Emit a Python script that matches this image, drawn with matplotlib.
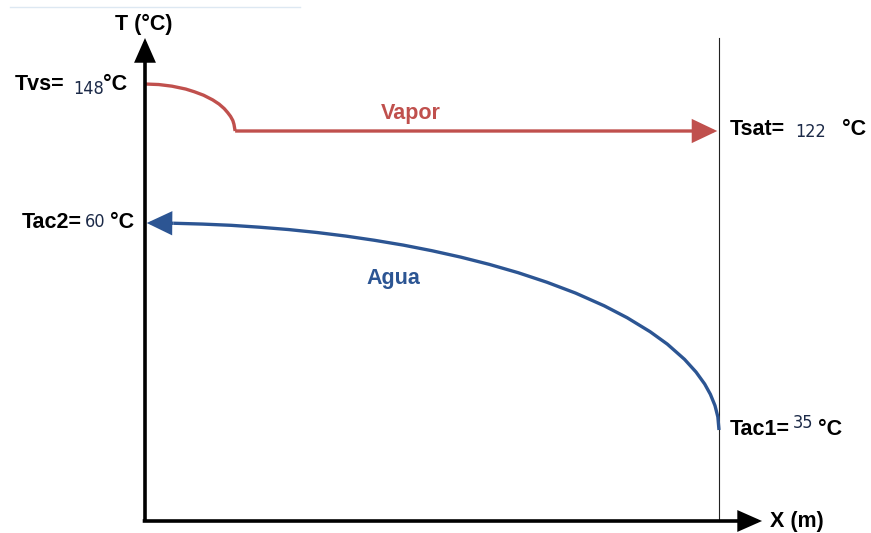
import numpy as np
import matplotlib
matplotlib.use("Agg")
import matplotlib.pyplot as plt
from matplotlib.lines import Line2D

# ---- data -------------------------------------------------------------
# Temperatures of the streams (°C)
T_vapor_in = 148      # Tvs, superheated steam inlet
T_sat = 122           # Tsat, condensing temperature
T_water_out = 60      # Tac2, cooling water outlet
T_water_in = 35       # Tac1, cooling water inlet

# Steam profile along the exchanger (x in units of exchanger length)
vapor_x = [0.0, 0.024, 0.047, 0.071, 0.086, 0.102, 0.118, 0.129, 0.138,
           0.144, 0.149, 0.153, 0.155, 0.157, 1.0]
vapor_T = [148.0, 147.7, 146.8, 145.2, 143.7, 141.8, 139.2, 136.9, 134.4,
           132.2, 130.1, 127.8, 125.7, 122.0, 122.0]

# Cooling water profile (counter-flow, enters at x=1, leaves at x=0)
water_x = [0.0, 0.05, 0.1, 0.15, 0.2, 0.25, 0.3, 0.35, 0.4, 0.45, 0.5,
           0.55, 0.6, 0.65, 0.7, 0.75, 0.8, 0.84, 0.88, 0.91, 0.94, 0.96,
           0.975, 0.985, 0.993, 0.998, 1.0]
water_T = [60.0, 59.97, 59.87, 59.72, 59.49, 59.21, 58.85, 58.42, 57.91,
           57.33, 56.65, 55.88, 55.0, 54.0, 52.85, 51.54, 50.0, 48.56,
           46.87, 45.37, 43.53, 42.0, 40.56, 39.31, 37.95, 36.58, 35.0]

x_end = 1.0           # exchanger outlet (vertical reference line)
x_axis_tip = 1.075
T_axis_tip = 175

# Schematic (broken) temperature scale: knots of temperature vs. drawn height
scale_T = [-10, 0, 35, 60, 122, 148, 175, 215]
scale_h = [0, 12, 103, 310, 402, 449, 495, 533]

RED = "#c0504d"
BLUE = "#2c5593"
NUM = "#1c2a48"

plt.rcParams["font.family"] = ["Liberation Sans", "DejaVu Sans"]

fig = plt.figure(figsize=(8.71, 5.33), dpi=100)
ax = fig.add_axes([0, 0, 1, 1])
ax.set_yscale("function",
              functions=(lambda t: np.interp(t, scale_T, scale_h),
                         lambda h: np.interp(h, scale_h, scale_T)))
ax.set_xlim(-145 / 574, (871 - 145) / 574)
ax.set_ylim(scale_T[0], scale_T[-1])
ax.axis("off")

# faint rule at the very top
fig.add_artist(Line2D([10 / 871, 300 / 871], [1 - 7 / 533, 1 - 7 / 533],
                      color="#dde8f2", lw=1.0))

# exchanger outlet reference line
ax.plot([x_end, x_end], [0, T_axis_tip], color="#222222", lw=0.8)

# axes with arrows
axis_arrow = dict(arrowstyle="-|>,head_length=0.95,head_width=0.42",
                  color="black", lw=2.6, mutation_scale=14,
                  shrinkA=0, shrinkB=0, joinstyle="miter", capstyle="butt")
ax.annotate("", xy=(0, T_axis_tip), xytext=(0, 0), arrowprops=axis_arrow)
ax.annotate("", xy=(x_axis_tip, 0), xytext=(-0.004, 0), arrowprops=axis_arrow)

ax.annotate("T (°C)", xy=(0, T_axis_tip), xytext=(-1, 8),
            textcoords="offset pixels", ha="center", va="baseline",
            fontsize=15.5, fontweight="bold")
ax.annotate("X (m)", xy=(x_axis_tip, 0), xytext=(8, -6),
            textcoords="offset pixels", ha="left", va="baseline",
            fontsize=15.5, fontweight="bold")

# stream profiles
line_arrow = dict(arrowstyle="-|>,head_length=0.8,head_width=0.38",
                  lw=2.4, mutation_scale=18, shrinkA=0, shrinkB=0,
                  joinstyle="miter", capstyle="butt")

ax.plot(vapor_x[:-1], vapor_T[:-1], color=RED, lw=2.4,
        solid_capstyle="butt", solid_joinstyle="round")
ax.annotate("", xy=(vapor_x[-1] - 0.003, vapor_T[-1]),
            xytext=(vapor_x[-2], vapor_T[-2]),
            arrowprops=dict(line_arrow, color=RED))

ax.plot(water_x[1:], water_T[1:], color=BLUE, lw=2.4,
        solid_capstyle="butt", solid_joinstyle="round")
ax.annotate("", xy=(water_x[0] + 0.003, water_T[0]),
            xytext=(water_x[1], water_T[1]),
            arrowprops=dict(line_arrow, color=BLUE))

ax.annotate("Vapor", xy=(0.463, T_sat), xytext=(0, 12),
            textcoords="offset pixels", ha="center", va="baseline",
            fontsize=15.5, fontweight="bold", color=RED)
ax.annotate("Agua", xy=(0.432, 57.5), xytext=(0, -40),
            textcoords="offset pixels", ha="center", va="baseline",
            fontsize=15.5, fontweight="bold", color=BLUE)


def temp_label(x, T, name, name_dx, num_dx, num_dy, unit_dx, dy=-5):
    """Label like 'Tvs= 148 °C' anchored at a point of the diagram."""
    ax.annotate(name, xy=(x, T), xytext=(name_dx, dy),
                textcoords="offset pixels", ha="left", va="baseline",
                fontsize=15.5, fontweight="bold")
    ax.annotate(f"{T:g}", xy=(x, T), xytext=(num_dx, num_dy),
                textcoords="offset pixels", ha="left", va="baseline",
                fontsize=13, color=NUM, family="DejaVu Sans",
                fontstretch="condensed", fontweight="medium")
    ax.annotate("°C", xy=(x, T), xytext=(unit_dx, dy),
                textcoords="offset pixels", ha="left", va="baseline",
                fontsize=15.5, fontweight="bold")


temp_label(0, T_vapor_in, "Tvs=", -130, -72, -10, -42, dy=-6)
temp_label(x_end, T_sat, "Tsat=", 11, 76, -6, 123, dy=-4)
temp_label(0, T_water_out, "Tac2=", -123, -60, -4, -35)
temp_label(x_end, T_water_in, "Tac1=", 11, 74, 2, 99)

fig.savefig("out.png", dpi=100)
